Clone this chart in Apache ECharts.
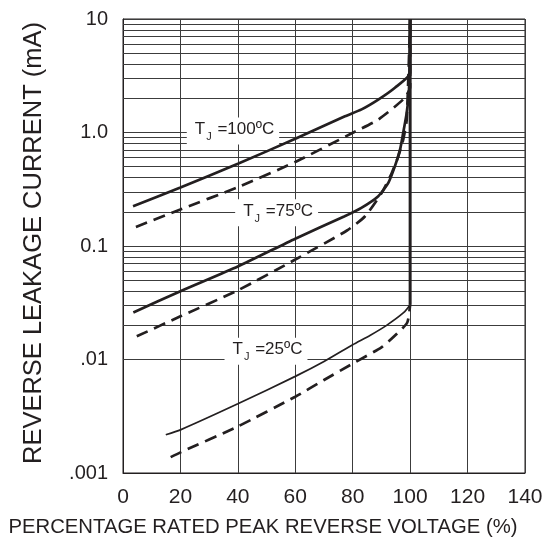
<!DOCTYPE html>
<html>
<head>
<meta charset="utf-8">
<script src="https://cdn.jsdelivr.net/npm/echarts@6/dist/echarts.min.js"></script>
<style>
html,body{margin:0;padding:0;background:#fff;}
#chart{width:550px;height:545px;}
</style>
</head>
<body>
<div id="chart"></div>
<script>
// ---- data (x: % of rated peak reverse voltage, y: leakage current mA) ----
const tj100Solid = [[3.5,0.224],[20,0.327],[40,0.53],[60,0.88],[77.3,1.39],[83.1,1.6],[88.9,1.95],[94.7,2.48],[100,3.36],[100,10]];
const tj100Dash  = [[4.5,0.147],[20,0.21],[40,0.33],[60,0.55],[80.2,1.0],[88.9,1.3],[97.6,1.96],[100,2.5],[100,10]];
const tj75Solid  = [[3.6,0.026],[20,0.040],[40,0.066],[60,0.116],[77,0.182],[83,0.217],[88.9,0.275],[92.4,0.36],[94.7,0.505],[96.5,0.71],[97.6,1.0],[98.8,1.49],[99.6,2.4],[100,10]];
const tj75Dash   = [[4.8,0.016],[20,0.024],[40,0.0407],[60,0.076],[78,0.137],[84.3,0.183],[90.1,0.294],[93.6,0.44],[95.9,0.62],[97.6,0.87],[98.8,1.3],[100,10]];
const tj25Solid  = [[14.9,0.00217],[20,0.0024],[40,0.00407],[60,0.0071],[70,0.0096],[80,0.0135],[86,0.0163],[91.8,0.0200],[97.6,0.0257],[100,0.0304]];
const tj25Dash   = [[16.6,0.00138],[20,0.00152],[40,0.00257],[60,0.0047],[70,0.0066],[80,0.0092],[90,0.0128],[95,0.0165],[99,0.0212],[100,0.0304]];
const breakdownLine = [[100,0.0304],[100,10]];

const seriesNames = ['TJ=100 max','TJ=100 typ','TJ=75 max','TJ=75 typ','TJ=25 max','TJ=25 typ','breakdown'];
const curveLabels = ['100ºC','75ºC','25ºC'];
const labelAnchors = [[38.3,1.03],[53.5,0.196],[49.8,0.0118]];

const xTicks = [0,20,40,60,80,100,120,140];
const yTickValues = [0.001,0.01,0.1,1,10];
const yTickLabels = ['.001','.01','0.1','1.0','10'];
const decades = [0.001,0.01,0.1,1];
const minorSteps = [2,3,4,5,6,7,8,9];

const FONT = "'Liberation Sans', Arial, sans-serif";
const INK = '#231f20';
const GRID = '#3c3c3c';

const minorLines = [];
decades.forEach(d => minorSteps.forEach(m => minorLines.push({yAxis: +(d*m).toPrecision(6)})));

function labelPoint(i){
  return {
    symbol:'rect', symbolSize:0, silent:true,
    data:[{coord: labelAnchors[i]}],
    label:{
      show:true, position:'inside',
      formatter: '{t|T}{s|J}{t| =' + curveLabels[i] + '}',
      backgroundColor:'#fff', padding:[3,5,2,8],
      rich:{
        t:{fontFamily:FONT, fontSize:17, color:INK, lineHeight:22, verticalAlign:'top'},
        s:{fontFamily:FONT, fontSize:11, color:INK, lineHeight:12, verticalAlign:'bottom', padding:[0,1,0,1]}
      }
    }
  };
}

function curve(name, data, dashed, width, labelIdx){
  const s = {
    name, type:'line', data, showSymbol:false, symbol:'none', smooth:0.2, z:5,
    lineStyle:{color:INK, width, type: dashed ? [12,7] : 'solid', cap:'butt'},
    silent:true, animation:false
  };
  if (labelIdx !== undefined) s.markPoint = labelPoint(labelIdx);
  return s;
}

const chart = echarts.init(document.getElementById('chart'), null, {renderer:'canvas'});
chart.setOption({
  animation:false,
  backgroundColor:'#fff',
  grid:{left:123, right:25, top:19, bottom:72, show:true, borderColor:INK, borderWidth:1, outerBoundsMode:'none'},
  xAxis:{
    type:'value', min:0, max:140, interval:20,
    name:'PERCENTAGE RATED PEAK REVERSE VOLTAGE (%)', nameLocation:'middle', nameGap:44,
    nameTextStyle:{fontFamily:FONT, fontSize:20.3, color:INK, padding:[0,122,0,0]},
    axisLine:{show:true, lineStyle:{color:INK, width:1}},
    axisTick:{show:false},
    axisLabel:{fontFamily:FONT, fontSize:21, color:INK, margin:14,
      formatter: v => xTicks.includes(v) ? String(v) : ''},
    splitLine:{show:true, lineStyle:{color:GRID, width:1}}
  },
  yAxis:{
    type:'log', logBase:10, min:0.001, max:10,
    name:'REVERSE LEAKAGE CURRENT (mA)', nameLocation:'middle', nameGap:76, nameRotate:90,
    nameTextStyle:{fontFamily:FONT, fontSize:25.5, color:INK, padding:[0,0,0,6]},
    axisLine:{show:true, lineStyle:{color:INK, width:1}},
    axisTick:{show:false},
    axisLabel:{fontFamily:FONT, fontSize:20, color:INK, margin:15,
      formatter: v => { const i = yTickValues.findIndex(t => Math.abs(Math.log10(t) - Math.log10(v)) < 1e-6); return i >= 0 ? yTickLabels[i] : ''; }},
    splitLine:{show:true, lineStyle:{color:GRID, width:1}},
    minorTick:{show:false}, minorSplitLine:{show:false}
  },
  series:[
    {
      name:'grid', type:'line', data:[[0,0.001],[140,0.001]], showSymbol:false, symbol:'none',
      lineStyle:{width:0, opacity:0}, z:1, silent:true,
      markLine:{silent:true, symbol:['none','none'], label:{show:false},
        lineStyle:{color:GRID, width:1, type:'solid'}, data: minorLines, animation:false}
    },
    curve(seriesNames[0], tj100Solid, false, 2.7, 0),
    curve(seriesNames[1], tj100Dash, true, 2.7),
    curve(seriesNames[2], tj75Solid, false, 2.7, 1),
    curve(seriesNames[3], tj75Dash, true, 2.7),
    curve(seriesNames[4], tj25Solid, false, 1.7, 2),
    curve(seriesNames[5], tj25Dash, true, 2.7),
    {name:seriesNames[6], type:'line', data:breakdownLine, showSymbol:false, symbol:'none', z:6, silent:true,
      lineStyle:{color:INK, width:3, type:'solid'}}
  ]
});
</script>
</body>
</html>
